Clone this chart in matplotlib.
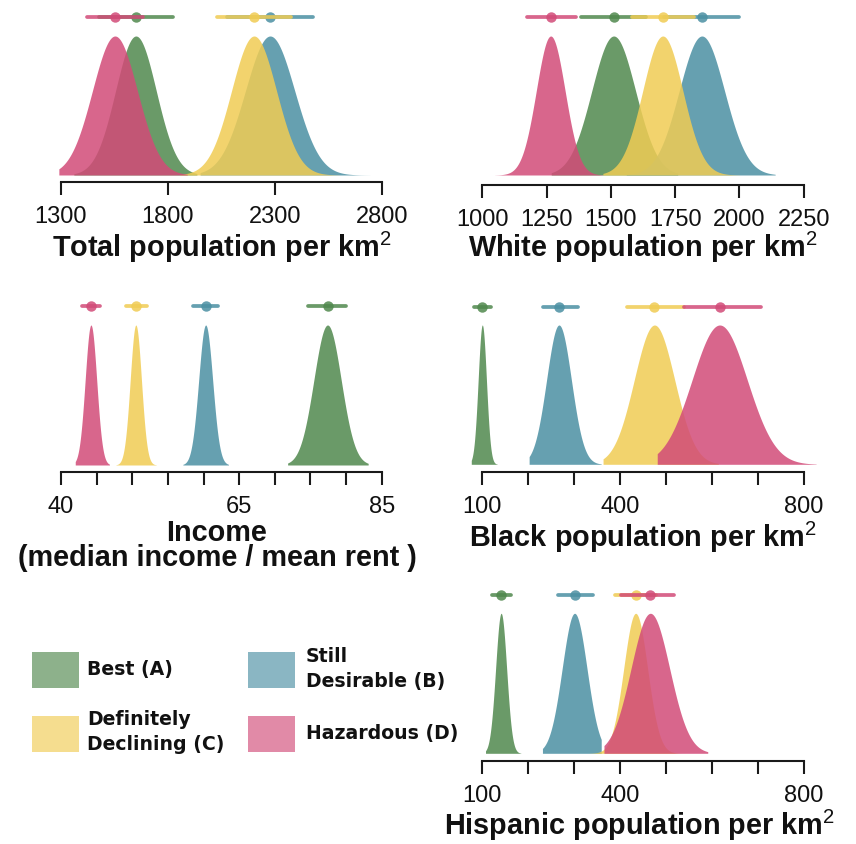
import numpy as np
import matplotlib
matplotlib.use("Agg")
import matplotlib.pyplot as plt
from matplotlib.patches import Rectangle

plt.rcParams['font.family'] = ['Liberation Sans', 'DejaVu Sans']
plt.rcParams['mathtext.fontset'] = 'custom'
plt.rcParams['mathtext.rm'] = 'Liberation Sans'
plt.rcParams['mathtext.default'] = 'regular'

# ---------------- data ----------------
groups = ['Best (A)', 'Still\nDesirable (B)', 'Definitely\nDeclining (C)', 'Hazardous (D)']
colors = ['#50884d', '#4b90a3', '#f0cc54', '#d24b78']

# order of every list: A, B, C, D
total_mean = [1650, 2277, 2202, 1552]
total_sd = [95, 115, 105, 105]
total_lo = [1360, 1950, 1856, 1290]
total_hi = [1935, 2744, 2600, 1890]
total_ci_lo = [1477, 2077, 2029, 1421]
total_ci_hi = [1823, 2477, 2375, 1683]

white_mean = [1511, 1854, 1702, 1266]
white_sd = [85, 88, 78, 56]
white_lo = [1268, 1560, 1469, 1048]
white_hi = [1760, 2139, 2000, 1469]
white_ci_lo = [1385, 1708, 1582, 1172]
white_ci_hi = [1637, 2000, 1822, 1363]

income_mean = [77.4, 60.3, 50.5, 44.2]
income_sd = [1.92, 0.98, 0.79, 0.81]
income_lo = [71.8, 57.1, 47.7, 42.0]
income_hi = [83.1, 63.5, 53.4, 46.8]
income_ci_lo = [74.7, 58.5, 49.1, 43.0]
income_ci_hi = [80.0, 62.0, 52.0, 45.5]

black_mean = [100, 267, 475, 617]
black_sd = [9, 27, 44, 60]
black_lo = [76, 202, 363, 481]
black_hi = [133, 359, 614, 827]
black_ci_lo = [83, 232, 416, 539]
black_ci_hi = [118, 308, 539, 707]

hisp_mean = [141, 301, 434, 466]
hisp_sd = [12, 27, 26, 42]
hisp_lo = [107, 231, 333, 365]
hisp_hi = [184, 359, 560, 591]
hisp_ci_lo = [122, 265, 389, 401]
hisp_ci_hi = [162, 341, 479, 517]

total_ticks = [1300, 1800, 2300, 2800]
total_labels = ['1300', '1800', '2300', '2800']
white_ticks = [1000, 1250, 1500, 1750, 2000, 2250]
white_labels = ['1000', '1250', '1500', '1750', '2000', '2250']
income_ticks = [40, 45, 50, 55, 60, 65, 70, 75, 80, 85]
income_labels = ['40', '', '', '', '', '65', '', '', '', '85']
pop_ticks = [100, 200, 300, 400, 500, 600, 700, 800]
pop_labels = ['100', '', '', '400', '', '', '', '800']

# ---------------- figure ----------------
W, H = 856, 844
fig = plt.figure(figsize=(W / 100, H / 100), dpi=100)
ALPHA = 0.85


def panel(x0px, x1px, ticks, labels, y_axis, y_base, y_peak, y_int,
          mean, sd, lo, hi, ci_lo, ci_hi, order=(0, 1, 2, 3)):
    v0, v1 = ticks[0], ticks[-1]
    pad = 40
    scale = (v1 - v0) / (x1px - x0px)
    left_px, right_px = x0px - pad, x1px + pad
    y_top = y_int - 14
    ax = fig.add_axes([left_px / W, 1 - y_axis / H,
                       (right_px - left_px) / W, (y_axis - y_top) / H])
    ax.set_xlim(v0 - pad * scale, v1 + pad * scale)
    unit = y_base - y_peak
    ax.set_ylim((y_base - y_axis) / unit, (y_base - y_top) / unit)
    for i in order:
        x = np.linspace(lo[i], hi[i], 400)
        d = np.exp(-0.5 * ((x - mean[i]) / sd[i]) ** 2)
        ax.fill_between(x, 0, d, color=colors[i], alpha=ALPHA, lw=0)
    yi = (y_base - y_int) / unit
    for i in order:
        ax.plot([ci_lo[i], ci_hi[i]], [yi, yi], color=colors[i], alpha=ALPHA,
                lw=2.7, solid_capstyle='round', clip_on=False)
        ax.plot([mean[i]], [yi], 'o', color=colors[i], alpha=ALPHA, ms=7.5,
                mew=0, clip_on=False)
    for s in ['top', 'right', 'left']:
        ax.spines[s].set_visible(False)
    ax.spines['bottom'].set_bounds(v0, v1)
    ax.spines['bottom'].set_linewidth(1.5)
    ax.spines['bottom'].set_color('#1a1a1a')
    ax.set_yticks([])
    ax.set_xticks(ticks)
    ax.set_xticklabels(labels)
    ax.tick_params(axis='x', length=9.4, width=1.5, color='#1a1a1a',
                   labelsize=17, pad=8, labelcolor='#111111')
    ax.patch.set_alpha(0)
    return ax


draw_order = (0, 1, 2, 3)
panel(61, 382, total_ticks, total_labels, 182, 175, 36, 17,
      total_mean, total_sd, total_lo, total_hi, total_ci_lo, total_ci_hi, draw_order)
panel(482.3, 803.7, white_ticks, white_labels, 185, 175, 36, 17,
      white_mean, white_sd, white_lo, white_hi, white_ci_lo, white_ci_hi, draw_order)
panel(61, 381.7, income_ticks, income_labels, 471.7, 465, 325, 306,
      income_mean, income_sd, income_lo, income_hi, income_ci_lo, income_ci_hi, draw_order)
panel(482.3, 803.7, pop_ticks, pop_labels, 471.7, 464.3, 325, 306.7,
      black_mean, black_sd, black_lo, black_hi, black_ci_lo, black_ci_hi, draw_order)
panel(482.3, 803.7, pop_ticks, pop_labels, 760.7, 753.3, 613.3, 595,
      hisp_mean, hisp_sd, hisp_lo, hisp_hi, hisp_ci_lo, hisp_ci_hi, draw_order)

# axis titles
def ftext(xpx, ypx, s, va='baseline', **kw):
    fig.text(xpx / W, 1 - ypx / H, s, ha='center', va=va,
             fontsize=20.8, fontweight='bold', color='#111111', **kw)

ftext(221.5, 257, r'Total population per km$^{\mathrm{2}}$')
ftext(643, 257, r'White population per km$^{\mathrm{2}}$')
ftext(217, 519, 'Income\n(median income / mean rent )', va='top',
      linespacing=0.88, multialignment='center')
ftext(643, 546.7, r'Black population per km$^{\mathrm{2}}$')
ftext(640, 835, r'Hispanic population per km$^{\mathrm{2}}$')

# legend (drawn in an overlay axes in pixel units)
lg = fig.add_axes([0, 0, 1, 1])
lg.set_xlim(0, W)
lg.set_ylim(H, 0)
lg.axis('off')
lg.patch.set_alpha(0)
leg_box = [(32, 652), (248, 652), (32, 716), (248, 716)]
leg_text = [(87, 669), (306, 669), (87, 732), (306, 733)]
for i in range(4):
    bx, by = leg_box[i]
    lg.add_patch(Rectangle((bx, by), 47, 36, facecolor=colors[i], alpha=0.65, lw=0))
    tx, ty = leg_text[i]
    lg.text(tx, ty, groups[i], ha='left', va='center', fontsize=13.6,
            fontweight='bold', family='DejaVu Sans', linespacing=1.38,
            color='#111111')

fig.savefig('out.png', dpi=100)
